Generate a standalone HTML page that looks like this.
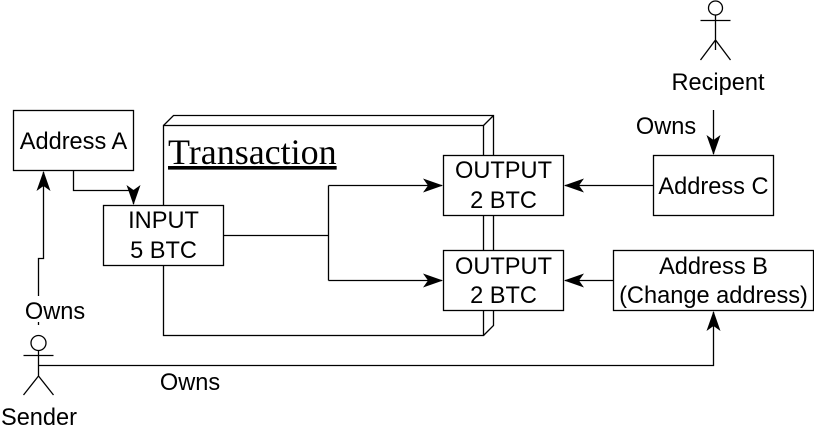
<!DOCTYPE html>
<html><head><style>body{margin:0;background:#fff}svg{display:block}</style></head><body>
<svg width="814" height="444" xmlns="http://www.w3.org/2000/svg" font-family="Liberation Sans, sans-serif" font-size="23.6">
<defs><marker id="b" viewBox="0 0 20 14" refX="19" refY="7" markerWidth="20" markerHeight="14" orient="auto" markerUnits="userSpaceOnUse"><path d="M0,0 L20,7 L0,14 L5,7 Z" fill="#000"/></marker></defs>
<g fill="none" stroke="#000" stroke-width="1.3">
<rect x="13.5" y="110.5" width="120" height="60" fill="#fff"/>
<path d="M163.5,125.5 L173.5,115.5 L493.5,115.5 L493.5,325.5 L483.5,335.5 M483.5,125.5 L493.5,115.5"/>
<rect x="163.5" y="125.5" width="320" height="210"/>
<path d="M73.5,170 V190.5 H133.5 V204" marker-end="url(#b)"/>
<rect x="103.5" y="205.5" width="120" height="60" fill="#fff"/>
<path d="M223.5,235.5 H328.5 M328.5,185.5 V280.5"/>
<path d="M328.5,185.5 H442" marker-end="url(#b)"/>
<path d="M328.5,280.5 H442" marker-end="url(#b)"/>
<rect x="443.5" y="155.5" width="120" height="60" fill="#fff"/>
<rect x="443.5" y="250.5" width="120" height="60" fill="#fff"/>
<rect x="653.5" y="155.5" width="120" height="60"/>
<rect x="613.5" y="250.5" width="200" height="60"/>
<path d="M653.5,185.5 H565" marker-end="url(#b)"/>
<path d="M613.5,280.5 H565" marker-end="url(#b)"/>
<path d="M713.5,110 V154" marker-end="url(#b)"/>
<path d="M38.5,325 V258.5 H43.5 V172" marker-end="url(#b)"/>
<path d="M38.5,365.5 H713.5 V312" marker-end="url(#b)"/>
<circle cx="715.5" cy="8" r="7"/>
<path d="M715.5,15 V50 M700.5,20.5 H730.5 M700.5,60 L715.5,40 L730.5,60"/>
<circle cx="38.5" cy="343" r="7.5"/>
<path d="M38.5,350.5 V376 M23.5,355.5 H53.5 M23.5,395 L38.5,376 L53.5,395"/>
</g>
<rect x="24" y="296" width="62" height="26" fill="#fff"/>
<text x="168" y="164" font-family="Liberation Serif, serif" font-size="36" text-decoration="underline">Transaction</text>
<g text-anchor="middle">
<text x="73.5" y="149">Address A</text>
<text x="163.5" y="228">INPUT</text><text x="163.5" y="258">5 BTC</text>
<text x="503.5" y="178">OUTPUT</text><text x="503.5" y="208">2 BTC</text>
<text x="503.5" y="274">OUTPUT</text><text x="503.5" y="303">2 BTC</text>
<text x="713.5" y="194">Address C</text>
<text x="713.5" y="274">Address B</text><text x="713.5" y="303">(Change address)</text>
<text x="718" y="90">Recipent</text>
<text x="666" y="134">Owns</text>
<text x="55" y="319">Owns</text>
<text x="190" y="390">Owns</text>
<text x="39" y="425">Sender</text>
</g>
</svg>
</body></html>
